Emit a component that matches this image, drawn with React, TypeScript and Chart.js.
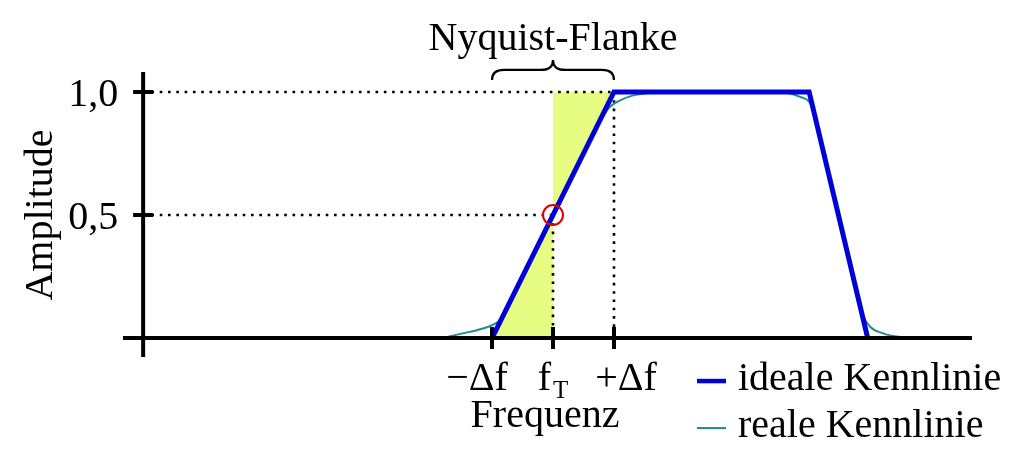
import React, { useEffect, useRef } from "react";
import { Chart, registerables } from "chart.js";

Chart.register(...registerables);

// ---- scale ranges (data units: fT = 0, Δf = 1) ----
const X_MIN = -7.05;
const X_MAX = 6.87;
const Y_MIN = -0.077;
const Y_MAX = 1.081;
const Y_AXIS_AT = -6.72;

// ---- ticks ----
const xTickValues = [-1, 0, 1];
const xTickLabels = ["−Δf", "f", "+Δf"];
const xTickSubs = ["", "T", ""];
const yTickValues = [0.5, 1.0];
const yTickLabels = ["0,5", "1,0"];

// ---- ideal characteristic (trapezoid) ----
const idealX = [-1, 1, 4.2, 5.16];
const idealY = [0, 1, 1, 0];

// ---- real characteristic ----
const realX = [-1.8, -1.5, -1.25, -1.0, -0.85, -0.5, 0, 0.5, 0.9, 1.0, 1.1, 1.3, 1.6, 2.0, 3.0, 3.7, 3.9, 4.05, 4.2, 4.3, 4.68, 5.05, 5.2, 5.4, 5.6, 5.85];
const realY = [0, 0.018, 0.032, 0.052, 0.078, 0.25, 0.5, 0.75, 0.93, 0.952, 0.966, 0.985, 0.996, 1, 1, 1, 0.993, 0.98, 0.96, 0.9, 0.5, 0.11, 0.046, 0.02, 0.007, 0];

// ---- Nyquist flank shading ----
const flankX = [-1, 0, 0, 1];
const flankY = [0, 0, 1, 1];

// ---- marker at (fT, 0.5) ----
const markerX = [0];
const markerY = [0.5];

// ---- texts ----
const yTitle = "Amplitude";
const xTitle = "Frequenz";
const braceLabel = "Nyquist-Flanke";
const legendLabels = ["ideale Kennlinie", "reale Kennlinie"];

const BLUE = "#0000d8";
const TEAL = "#1f8d8d";
const YELLOW = "#e6fc82";
const RED = "#e00000";
const FONT = '"Liberation Serif", "Times New Roman", serif';

const pts = (xs: number[], ys: number[]) => xs.map((x, i) => ({ x, y: ys[i] }));

const overlay = {
  id: "overlay",
  afterDatasetsDraw(chart: any) {
    const { ctx } = chart;
    const xs = chart.scales.x;
    const ys = chart.scales.y;
    const px = (v: number) => xs.getPixelForValue(v);
    const py = (v: number) => ys.getPixelForValue(v);
    const ax = px(Y_AXIS_AT);
    const ay = py(0);
    ctx.save();
    // axes
    ctx.strokeStyle = "#000";
    ctx.lineWidth = 4;
    ctx.lineCap = "butt";
    ctx.beginPath();
    ctx.moveTo(px(X_MIN), ay);
    ctx.lineTo(px(X_MAX), ay);
    ctx.moveTo(ax, py(Y_MIN));
    ctx.lineTo(ax, py(Y_MAX));
    ctx.stroke();
    // tick marks
    ctx.beginPath();
    xTickValues.forEach((v) => {
      ctx.moveTo(px(v), ay - 11);
      ctx.lineTo(px(v), ay + 11);
    });
    yTickValues.forEach((v) => {
      ctx.moveTo(ax - 10, py(v));
      ctx.lineTo(ax + 10, py(v));
    });
    ctx.stroke();

    ctx.fillStyle = "#000";
    ctx.textBaseline = "alphabetic";
    // y tick labels
    ctx.font = `40px ${FONT}`;
    ctx.textAlign = "right";
    yTickValues.forEach((v, i) => {
      ctx.fillText(yTickLabels[i], ax - 25, py(v) + 14);
    });
    // x tick labels
    const xOffsets = [-15, 0, 12];
    xTickValues.forEach((v, i) => {
      const main = xTickLabels[i];
      const sub = xTickSubs[i];
      ctx.font = `40px ${FONT}`;
      const wMain = ctx.measureText(main).width;
      ctx.font = `25px ${FONT}`;
      const wSub = sub ? ctx.measureText(sub).width + 2 : 0;
      const total = wMain + wSub;
      const left = px(v) + xOffsets[i] - total / 2;
      ctx.textAlign = "left";
      ctx.font = `40px ${FONT}`;
      ctx.fillText(main, left, ay + 52);
      if (sub) {
        ctx.font = `25px ${FONT}`;
        ctx.fillText(sub, left + wMain + 2, ay + 60);
      }
    });
    // x title
    ctx.font = `40px ${FONT}`;
    ctx.textAlign = "center";
    ctx.fillText(xTitle, px(0) - 8, ay + 89);
    // y title
    ctx.save();
    ctx.translate(52, py(0.5));
    ctx.rotate(-Math.PI / 2);
    ctx.textAlign = "center";
    ctx.fillText(yTitle, 0, 0);
    ctx.restore();

    // brace over the flank
    const xL = px(-1);
    const xR = px(1);
    const xC = px(0);
    const yTop = py(1);
    const yEnd = yTop - 12;
    const yMid = yTop - 22;
    const yTip = yTop - 32;
    ctx.strokeStyle = "#000";
    ctx.lineWidth = 2.2;
    ctx.beginPath();
    ctx.moveTo(xL, yEnd);
    ctx.quadraticCurveTo(xL, yMid, xL + 12, yMid);
    ctx.lineTo(xC - 12, yMid);
    ctx.quadraticCurveTo(xC, yMid, xC, yTip);
    ctx.quadraticCurveTo(xC, yMid, xC + 12, yMid);
    ctx.lineTo(xR - 12, yMid);
    ctx.quadraticCurveTo(xR, yMid, xR, yEnd);
    ctx.stroke();
    ctx.textAlign = "center";
    ctx.fillText(braceLabel, xC, yTop - 42);

    // legend
    const lx = 697;
    ctx.lineWidth = 4.5;
    ctx.strokeStyle = BLUE;
    ctx.beginPath();
    ctx.moveTo(lx, ay + 43);
    ctx.lineTo(lx + 29, ay + 43);
    ctx.stroke();
    ctx.lineWidth = 2;
    ctx.strokeStyle = TEAL;
    ctx.beginPath();
    ctx.moveTo(lx, ay + 90);
    ctx.lineTo(lx + 29, ay + 90);
    ctx.stroke();
    ctx.textAlign = "left";
    ctx.fillText(legendLabels[0], lx + 41, ay + 52);
    ctx.fillText(legendLabels[1], lx + 41, ay + 99);
    ctx.restore();
  },
};

export default function App() {
  const ref = useRef<HTMLCanvasElement | null>(null);
  useEffect(() => {
    document.body.style.margin = "0";
    const canvas = ref.current;
    if (!canvas) return;
    const dotted = {
      borderColor: "#000",
      borderWidth: 2.6,
      borderDash: [2.6, 5.7],
      pointRadius: 0,
      fill: false,
      order: 9,
    };
    const chart = new Chart(canvas, {
      type: "line",
      data: {
        datasets: [
          {
            data: pts(markerX, markerY),
            showLine: false,
            pointRadius: 10,
            pointBorderWidth: 2,
            pointBorderColor: RED,
            pointBackgroundColor: "rgba(0,0,0,0)",
            order: 1,
          } as any,
          {
            data: pts(idealX, idealY),
            borderColor: BLUE,
            borderWidth: 5,
            pointRadius: 0,
            fill: false,
            borderJoinStyle: "miter",
            order: 3,
          },
          {
            data: pts(realX, realY),
            borderColor: TEAL,
            borderWidth: 2,
            pointRadius: 0,
            fill: false,
            cubicInterpolationMode: "monotone",
            order: 5,
          },
          { ...dotted, data: pts([Y_AXIS_AT, 1], [1, 1]) },
          { ...dotted, data: pts([Y_AXIS_AT, 0], [0.5, 0.5]) },
          { ...dotted, data: pts([0, 0], [0.5, 0]) },
          { ...dotted, data: pts([1, 1], [1, 0]) },
          {
            data: pts(flankX, flankY),
            borderWidth: 0,
            borderColor: "rgba(0,0,0,0)",
            backgroundColor: YELLOW,
            pointRadius: 0,
            fill: "shape",
            order: 10,
          } as any,
        ],
      },
      options: {
        responsive: false,
        animation: false,
        devicePixelRatio: 1,
        layout: { padding: { left: 123, right: 52, top: 72, bottom: 104 } },
        plugins: { legend: { display: false }, tooltip: { enabled: false } },
        scales: {
          x: { type: "linear", min: X_MIN, max: X_MAX, display: false },
          y: { type: "linear", min: Y_MIN, max: Y_MAX, display: false },
        },
      },
      plugins: [overlay],
    } as any);
    return () => chart.destroy();
  }, []);
  return (
    <canvas
      ref={ref}
      width={1024}
      height={461}
      style={{ display: "block", width: 1024, height: 461 }}
    />
  );
}
